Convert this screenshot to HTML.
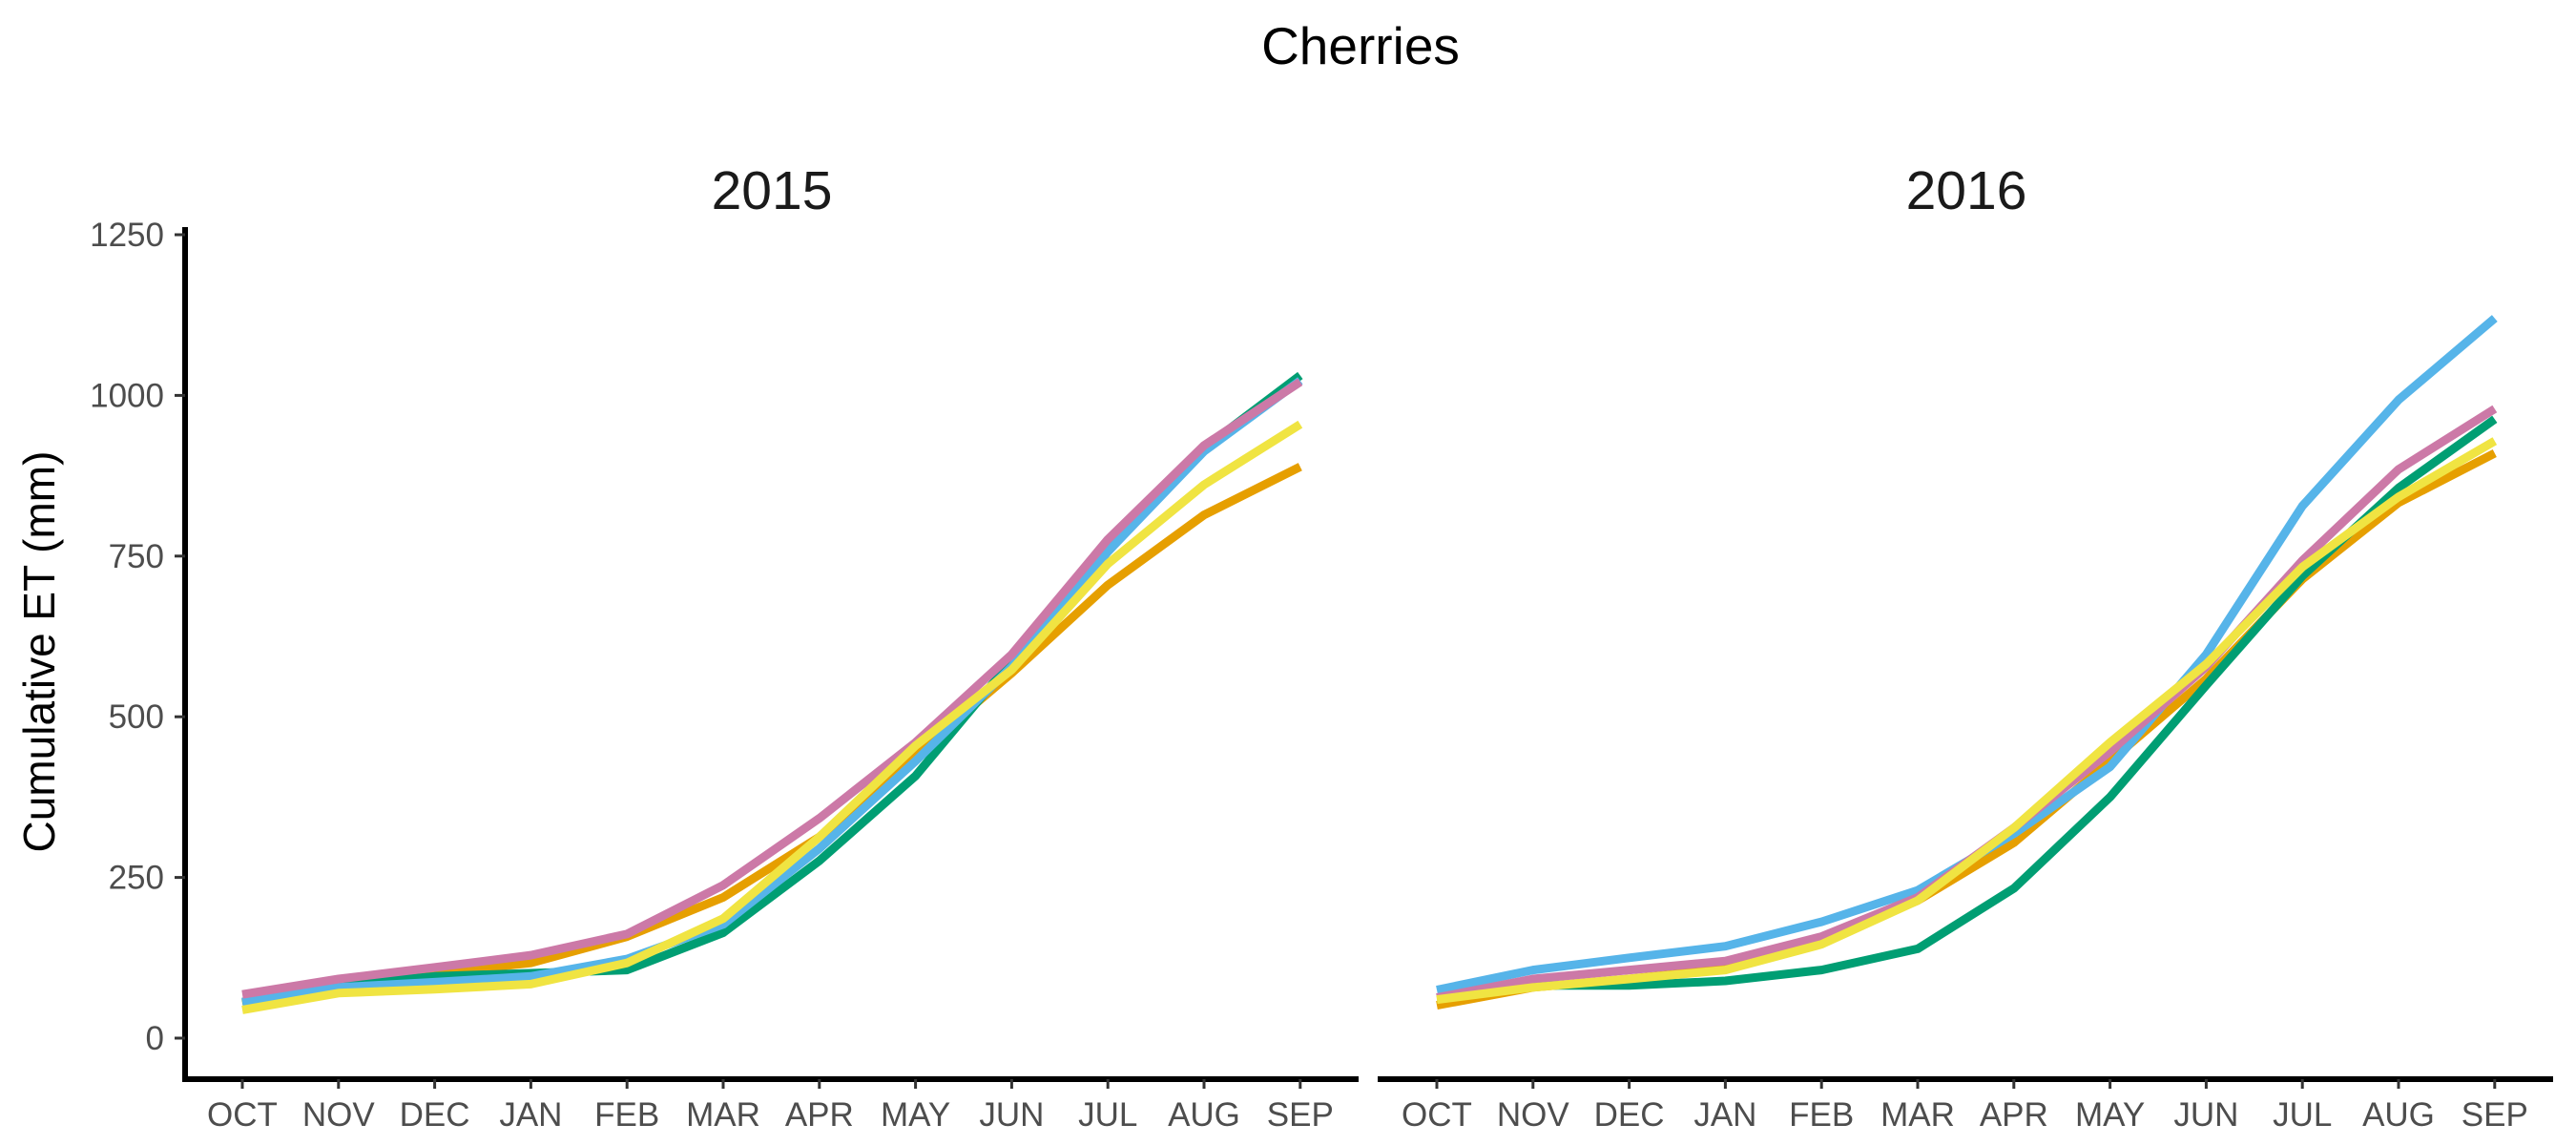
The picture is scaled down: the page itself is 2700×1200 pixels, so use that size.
<!DOCTYPE html>
<html><head><meta charset="utf-8"><style>
html,body{margin:0;padding:0;background:#fff;}
svg{display:block;font-family:"Liberation Sans",Arial,sans-serif;}
</style></head><body>
<svg id="chart" width="2700" height="1200" viewBox="0 0 2700 1200">
<text x="1426" y="67" text-anchor="middle" font-size="55" fill="#000">Cherries</text>
<text transform="translate(57,683) rotate(-90)" text-anchor="middle" font-size="46" fill="#000">Cumulative ET (mm)</text>
<g id="plots"></g>
</svg>
<script>
const months = ["OCT","NOV","DEC","JAN","FEB","MAR","APR","MAY","JUN","JUL","AUG","SEP"];
const yTicks = [0,250,500,750,1000,1250];
const panelTitles = ["2015","2016"];
const seriesNames = ["orange","green","blue","pink","yellow"];
const seriesColors = ["#E69F00","#009E73","#56B4E9","#CC79A7","#F0E442"];
const orange2015 = [54,82,101,117,158,219,313,441,568,705,814,889];
const green2015  = [56,82,96,101,106,164,276,408,587,757,918,1031];
const blue2015   = [56,79,87,96,123,177,295,431,578,757,913,1023];
const pink2015   = [68,92,110,129,162,238,342,460,597,776,922,1021];
const yellow2015 = [44,70,76,84,117,186,313,455,573,738,861,955];
const orange2016 = [51,79,92,108,153,214,304,431,559,714,833,910];
const green2016  = [63,82,82,89,106,139,233,375,549,719,856,963];
const blue2016   = [75,106,125,143,181,230,318,422,597,828,993,1120];
const pink2016   = [63,92,106,120,158,219,327,446,578,743,885,979];
const yellow2016 = [60,79,92,106,146,214,327,460,582,733,842,929];
const panelData = [
  [orange2015,green2015,blue2015,pink2015,yellow2015],
  [orange2016,green2016,blue2016,pink2016,yellow2016]
];
const NS="http://www.w3.org/2000/svg";
const g=document.getElementById('plots');
const panelLeft=[194,1446], panelW=1230, axisY=1131, topY=238;
function yScale(v){return 1088-(v/1250)*(1088-246);}
function xScale(p,i){return panelLeft[p]+60+i*100.8;}
function mk(tag,attrs){const e=document.createElementNS(NS,tag);for(const k in attrs)e.setAttribute(k,attrs[k]);return e;}
for(let p=0;p<2;p++){
  const pg=mk('g',{});
  
  
  g.appendChild(pg);
  const t=mk('text',{x:panelLeft[p]+panelW/2,y:219,'text-anchor':'middle','font-size':'57',fill:'#1a1a1a'});
  
  
  t.textContent=panelTitles[p];pg.appendChild(t);
  const xa=mk('line',{x1:panelLeft[p]-2,x2:panelLeft[p]+panelW,y1:axisY,y2:axisY,stroke:'#000','stroke-width':'6'});
  
  
  pg.appendChild(xa);
  months.forEach((m,i)=>{
    const x=xScale(p,i);
    const tk=mk('line',{x1:x,x2:x,y1:axisY,y2:axisY+10,stroke:'#333','stroke-width':'3'});
    
    
    pg.appendChild(tk);
    const lb=mk('text',{x:x,y:1180,'text-anchor':'middle','font-size':'35',fill:'#4d4d4d'});
    
    
    lb.textContent=m;pg.appendChild(lb);
  });
  if(p===0){
    const ya=mk('line',{x1:panelLeft[0],x2:panelLeft[0],y1:topY,y2:axisY+3,stroke:'#000','stroke-width':'6'});
    
    
    pg.appendChild(ya);
    yTicks.forEach(v=>{
      const y=yScale(v);
      const tk=mk('line',{x1:panelLeft[0]-11,x2:panelLeft[0],y1:y,y2:y,stroke:'#333','stroke-width':'3'});
      
      
      pg.appendChild(tk);
      const lb=mk('text',{x:panelLeft[0]-22,y:y+12,'text-anchor':'end','font-size':'35',fill:'#4d4d4d'});
      
      
      lb.textContent=v;pg.appendChild(lb);
    });
  }
  panelData[p].forEach((vals,s)=>{
    const d=vals.map((v,i)=>(i?'L':'M')+xScale(p,i).toFixed(1)+','+yScale(v).toFixed(1)).join(' ');
    const path=mk('path',{d:d,fill:'none',stroke:seriesColors[s],'stroke-width':'9','stroke-linejoin':'round'});
    
    
    pg.appendChild(path);
  });
}
</script>
</body></html>
